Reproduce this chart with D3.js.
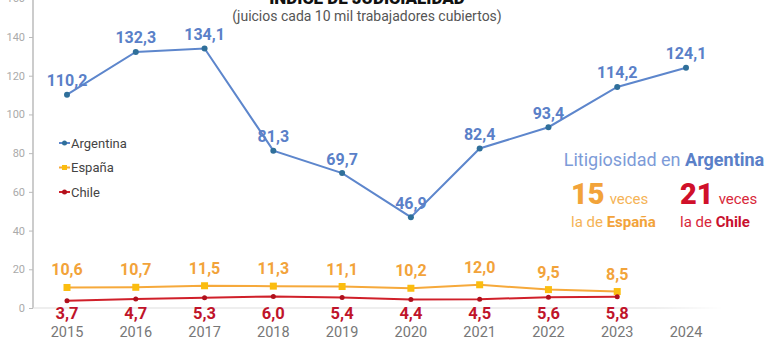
<!DOCTYPE html>
<html><head><meta charset="utf-8">
<script src="https://cdn.jsdelivr.net/npm/d3@7"></script>
<style>body{margin:0;background:#fff;}svg{display:block;font-family:Roboto,"Noto Sans",sans-serif;}</style>
</head><body>
<svg id="c" width="768" height="341"></svg>
<script>
const years = [2015,2016,2017,2018,2019,2020,2021,2022,2023,2024];
const argentina = [110.2,132.3,134.1,81.3,69.7,46.9,82.4,93.4,114.2,124.1];
const espana = [10.6,10.7,11.5,11.3,11.1,10.2,12.0,9.5,8.5];
const chile = [3.7,4.7,5.3,6.0,5.4,4.4,4.5,5.6,5.8];
const yTicks = [0,20,40,60,80,100,120,140,160];
const seriesNames = ["Argentina","España","Chile"];

const svg = d3.select("#c");
const x = d3.scalePoint().domain(years).range([67,686]);
const y = d3.scaleLinear().domain([0,140]).range([308,37]);
const fmt = v => v.toFixed(1).replace(".", ",");

// title (cut off at top, as in the reference)
svg.append("text").attr("x",367).attr("y",4).attr("text-anchor","middle")
  .attr("font-size",17).attr("font-weight",900).attr("fill","#111").text("ÍNDICE DE JUDICIALIDAD");
svg.append("text").attr("x",367).attr("y",21).attr("text-anchor","middle")
  .attr("font-size",14).attr("fill","#555").text("(juicios cada 10 mil trabajadores cubiertos)");

// y axis
const yAxis = d3.axisLeft(y).tickValues(yTicks).tickSize(4).tickFormat(d=>d);
const ga = svg.append("g").attr("transform","translate(33,0)").call(yAxis);
ga.select(".domain").attr("stroke","#bbb").attr("stroke-width",1.5).attr("d","M0,-5V308");
ga.selectAll(".tick line").attr("stroke","#bbb");
ga.selectAll(".tick text").attr("fill","#aaa").attr("font-size",11).attr("font-family","Roboto,sans-serif").attr("x",-8);

// baseline
const grad = svg.append("defs").append("linearGradient").attr("id","bg");
grad.append("stop").attr("offset","0%").attr("stop-color","#ddd");
grad.append("stop").attr("offset","90%").attr("stop-color","#ddd");
grad.append("stop").attr("offset","100%").attr("stop-color","#fff");
svg.append("rect").attr("x",33).attr("y",y(0)-0.5).attr("width",690).attr("height",1).attr("fill","url(#bg)");

// x labels
svg.selectAll(".yr").data(years).join("text").attr("x",d=>x(d)).attr("y",337)
  .attr("text-anchor","middle").attr("font-size",14.5).attr("fill","#777").text(d=>d);

const line = d3.line().x((d,i)=>x(years[i])).y(d=>y(d));

// España
svg.append("path").datum(espana).attr("d",line).attr("fill","none").attr("stroke","#f6a93b").attr("stroke-width",2);
svg.selectAll(".es").data(espana).join("rect").attr("x",(d,i)=>x(years[i])-3.5).attr("y",d=>y(d)-3.5)
  .attr("width",7).attr("height",7).attr("fill","#fbbd0f");
svg.selectAll(".esl").data(espana).join("text").attr("x",(d,i)=>x(years[i])).attr("y",d=>y(d)-12)
  .attr("text-anchor","middle").attr("font-size",16).attr("font-weight",700).attr("fill","#f2a33a").text(fmt);

// Chile
svg.append("path").datum(chile).attr("d",line).attr("fill","none").attr("stroke","#d0202a").attr("stroke-width",2);
svg.selectAll(".cl").data(chile).join("circle").attr("cx",(d,i)=>x(years[i])).attr("cy",d=>y(d)).attr("r",2.5).attr("fill","#b0101c");
svg.selectAll(".cll").data(chile).join("text").attr("x",(d,i)=>x(years[i])).attr("y",d=>y(0)+11)
  .attr("text-anchor","middle").attr("font-size",16.5).attr("font-weight",700).attr("fill","#c0142a").text(fmt);

// Argentina
svg.append("path").datum(argentina).attr("d",line).attr("fill","none").attr("stroke","#5d86cc").attr("stroke-width",2);
svg.selectAll(".ar").data(argentina).join("circle").attr("cx",(d,i)=>x(years[i])).attr("cy",d=>y(d)).attr("r",3).attr("fill","#2f6f9a");
svg.selectAll(".arl").data(argentina).join("text").attr("x",(d,i)=>x(years[i])).attr("y",d=>y(d)-8.5)
  .attr("text-anchor","middle").attr("font-size",16).attr("font-weight",700).attr("fill","#5a80c8").text(fmt);

// legend
const legColors = [["#5d86cc","#2f6f9a","c"],["#f6a93b","#fbbd0f","s"],["#d0202a","#b0101c","c"]];
seriesNames.forEach((n,i)=>{
  const ly = 143 + i*24.5;
  const g = svg.append("g");
  g.append("line").attr("x1",59).attr("x2",70).attr("y1",ly).attr("y2",ly).attr("stroke",legColors[i][0]).attr("stroke-width",2);
  if(legColors[i][2]==="c") g.append("circle").attr("cx",64.5).attr("cy",ly).attr("r",2.5).attr("fill",legColors[i][1]);
  else g.append("rect").attr("x",62).attr("y",ly-2.5).attr("width",5).attr("height",5).attr("fill",legColors[i][1]);
  g.append("text").attr("x",71).attr("y",ly+4.5).attr("font-size",13).attr("fill","#444").text(n);
});

// annotation
const t1 = svg.append("text").attr("x",664).attr("y",166).attr("text-anchor","middle").attr("font-size",18).attr("fill","#7d9bd8");
t1.append("tspan").text("Litigiosidad en ");
t1.append("tspan").attr("font-weight",700).attr("fill","#5a80c8").text("Argentina");

const t2 = svg.append("text").attr("x",571).attr("y",204).attr("fill","#f2a33a");
t2.append("tspan").attr("font-size",29).attr("font-weight",900).text("15");
t2.append("tspan").attr("font-size",15).attr("dx",5).attr("fill","#f5b356").text("veces");
const t3 = svg.append("text").attr("x",571).attr("y",227).attr("font-size",15).attr("fill","#f5b356");
t3.append("tspan").text("la de ");
t3.append("tspan").attr("font-weight",700).attr("fill","#f2a33a").text("España");

const t4 = svg.append("text").attr("x",680).attr("y",204).attr("fill","#d0102a");
t4.append("tspan").attr("font-size",29).attr("font-weight",900).text("21");
t4.append("tspan").attr("font-size",15).attr("dx",5).attr("fill","#d8283a").text("veces");
const t5 = svg.append("text").attr("x",680).attr("y",227).attr("font-size",15).attr("fill","#d8283a");
t5.append("tspan").text("la de ");
t5.append("tspan").attr("font-weight",700).attr("fill","#c8102e").text("Chile");
</script>
</body></html>
